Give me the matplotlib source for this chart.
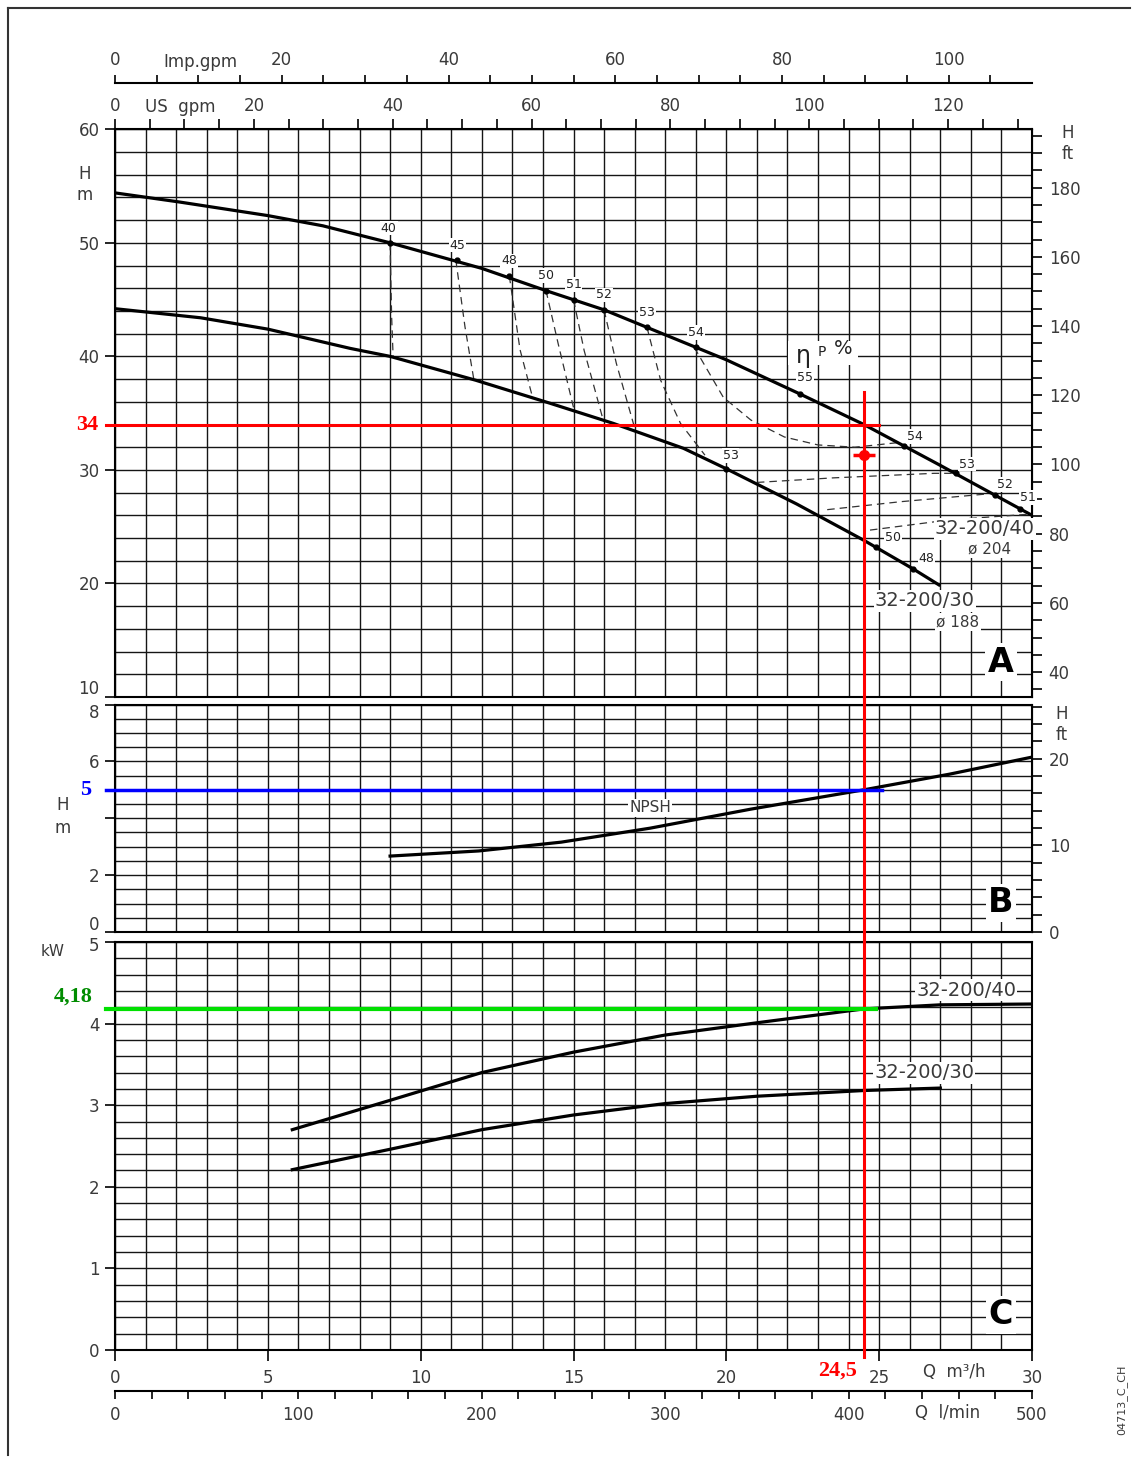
import numpy as np
import matplotlib.pyplot as plt
from matplotlib.ticker import MultipleLocator, FixedLocator, FuncFormatter

# === Curve data (Q in m3/h) ===
# Panel A : head H [m]
q_40 = [0, 2.1, 5.0, 6.8, 9.0, 12.0, 14.2, 16.0, 18.0, 20.0, 22.4, 24.5, 27.0, 30.0]
h_40 = [54.4, 53.6, 52.4, 51.5, 50.0, 47.75, 45.7, 44.1, 41.9, 39.7, 36.7, 34.0, 30.4, 26.0]
q_30 = [0, 2.8, 5.0, 7.7, 9.0, 11.8, 14.2, 16.3, 18.6, 20.0, 22.3, 24.5, 26.1, 27.0]
h_30 = [44.2, 43.4, 42.4, 40.7, 40.0, 37.9, 35.9, 34.1, 31.9, 30.1, 27.0, 23.8, 21.3, 19.8]

# efficiency iso-lines (dashed)
eff40_q, eff40_h = [9.0, 9.05, 9.1], [50.0, 43.5, 39.9]
eff45_q, eff45_h = [11.15, 11.45, 11.75], [48.5, 42.6, 37.8]
eff48_q, eff48_h = [12.9, 13.25, 13.65], [47.1, 40.6, 36.5]
eff50_q, eff50_h = [14.1, 14.5, 15.0], [45.8, 41.1, 35.5]
eff51_q, eff51_h = [15.0, 15.35, 15.95], [45.0, 40.5, 34.6]
eff52_q, eff52_h = [16.0, 16.4, 17.0], [44.1, 39.4, 33.7]
eff53_q, eff53_h = [17.4, 17.85, 18.5, 19.3], [42.6, 37.9, 34.1, 31.3]
eff54_q, eff54_h = [18.95, 19.9, 20.8, 21.9, 23.0, 24.2, 25.6], [40.8, 36.4, 34.4, 32.9, 32.2, 32.0, 32.4]
eff53r_q, eff53r_h = [21.0, 23.5, 26.8, 27.5], [28.9, 29.3, 29.7, 29.7]
eff52r_q, eff52r_h = [23.3, 25.7, 28.6], [26.5, 27.2, 27.9]
eff51r_q, eff51r_h = [24.7, 27.3, 29.9], [24.7, 25.6, 26.1]

# efficiency marks on the curves
mark40_q = [9.0, 11.2, 12.9, 14.1, 15.0, 16.0, 17.4, 19.0, 22.4, 25.8, 27.5, 28.8, 29.6]
mark40_h = [50.0, 48.5, 47.1, 45.8, 45.0, 44.1, 42.6, 40.8, 36.7, 32.1, 29.7, 27.8, 26.6]
mark40_lbl = ["40", "45", "48", "50", "51", "52", "53", "54", "55", "54", "53", "52", "51"]
mark30_q = [20.0, 24.9, 26.1]
mark30_h = [30.1, 23.2, 21.3]
mark30_lbl = ["53", "50", "48"]

# Panel B : NPSH [m]
npsh_q = [9.0, 11.9, 14.6, 17.5, 20.8, 24.5, 27.3, 30.0]
npsh_h = [2.67, 2.85, 3.16, 3.65, 4.32, 5.0, 5.55, 6.15]

# Panel C : power [kW]
p40_q = [5.8, 9.0, 12.0, 15.0, 18.0, 21.0, 24.5, 27.0, 30.0]
p40_kw = [2.70, 3.06, 3.40, 3.65, 3.86, 4.01, 4.18, 4.23, 4.24]
p30_q = [5.8, 9.0, 12.0, 15.0, 18.0, 21.0, 24.5, 27.0]
p30_kw = [2.21, 2.46, 2.70, 2.88, 3.02, 3.11, 3.18, 3.21]

# duty point
duty_q = 24.5
duty_h = 34
duty_eff_h = 31.3
duty_npsh = 5
duty_kw = 4.18

# unit conversions
M3H_USGPM = 4.40287
M3H_IMPGPM = 3.66615
M3H_LMIN = 16.6667
M_FT = 3.28084

# === Figure ===
W, H = 1133, 1461
fig = plt.figure(figsize=(W / 100, H / 100), dpi=100)
plt.rcParams['font.family'] = ['DejaVu Sans']

X0, X1 = 115, 1032


def rect(top, bottom):
    return [X0 / W, 1 - bottom / H, (X1 - X0) / W, (bottom - top) / H]


def ftext(px, py, s, **kw):
    return fig.text(px / W, 1 - py / H, s, **kw)


def label_except(skip):
    return FuncFormatter(lambda v, p: '' if any(abs(v - s) < 1e-6 for s in skip) else f'{v:.0f}')


TXT = '#3a3a3a'
GRID = '#151515'
LAB = dict(fontsize=12, color=TXT)

axA = fig.add_axes(rect(129.3, 697))
axB = fig.add_axes(rect(704.5, 932))
axC = fig.add_axes(rect(942, 1350))

for ax in (axA, axB, axC):
    ax.set_xlim(0, 30)
    ax.xaxis.set_major_locator(MultipleLocator(5))
    ax.xaxis.set_minor_locator(MultipleLocator(1))
    ax.grid(which='both', color=GRID, lw=1.0)
    ax.set_axisbelow(True)
    for s in ax.spines.values():
        s.set_linewidth(1.5)
    ax.tick_params(which='minor', length=0)
    ax.tick_params(which='major', direction='out', length=7, width=1.2,
                   labelsize=12, labelcolor=TXT, pad=4)

for ax in (axA, axB):
    ax.tick_params(axis='x', which='both', length=0, labelbottom=False)

# labels at the panel joints are drawn by hand further down
axA.set_ylim(10, 60)
axA.yaxis.set_major_locator(FixedLocator([10, 20, 30, 40, 50, 60]))
axA.yaxis.set_major_formatter(label_except([10]))
axA.yaxis.set_minor_locator(MultipleLocator(2))

axB.set_ylim(0, 8)
axB.yaxis.set_major_locator(FixedLocator([0, 2, 4, 6, 8]))
axB.yaxis.set_major_formatter(label_except([0, 4, 8]))
axB.yaxis.set_minor_locator(MultipleLocator(0.5))

axC.set_ylim(0, 5)
axC.yaxis.set_major_locator(FixedLocator([0, 1, 2, 3, 4, 5]))
axC.yaxis.set_major_formatter(label_except([5]))
axC.yaxis.set_minor_locator(MultipleLocator(0.2))
axC.tick_params(axis='x', which='major', length=8, pad=6)

ftext(99, 689, '10', **LAB, ha='right', va='center')
ftext(99, 713, '8', **LAB, ha='right', va='center')
ftext(99, 925, '0', **LAB, ha='right', va='center')
ftext(99, 946, '5', **LAB, ha='right', va='center')

# right ft axes
secA = axA.secondary_yaxis('right', functions=(lambda m: m * M_FT, lambda f: f / M_FT))
secA.yaxis.set_major_locator(FixedLocator(np.arange(35, 200, 5)))
secA.yaxis.set_major_formatter(FuncFormatter(
    lambda v, p: f'{v:.0f}' if (round(v) % 20 == 0 and 40 <= v <= 180) else ''))
secA.tick_params(length=7, width=1.2, labelsize=12, labelcolor=TXT, pad=5)

secB = axB.secondary_yaxis('right', functions=(lambda m: m * M_FT, lambda f: f / M_FT))
secB.yaxis.set_major_locator(FixedLocator(np.arange(0, 27, 2)))
secB.yaxis.set_major_formatter(FuncFormatter(
    lambda v, p: f'{v:.0f}' if round(v) % 10 == 0 else ''))
secB.tick_params(length=7, width=1.2, labelsize=12, labelcolor=TXT, pad=5)

# top US gpm axis
secT = axA.secondary_xaxis('top', functions=(lambda q: q * M3H_USGPM, lambda g: g / M3H_USGPM))
secT.xaxis.set_major_locator(FixedLocator(np.arange(0, 131, 5)))
secT.xaxis.set_major_formatter(FuncFormatter(
    lambda v, p: f'{v:.0f}' if round(v) % 20 == 0 else ''))
secT.tick_params(length=7, width=1.2, labelsize=12, labelcolor=TXT, pad=3)

# top Imp gpm axis
axI = fig.add_axes([X0 / W, 1 - 83 / H, (X1 - X0) / W, 1e-4])
axI.set_xlim(0, 30 * M3H_IMPGPM)
axI.patch.set_visible(False)
axI.set_yticks([])
for k in ('left', 'right', 'bottom'):
    axI.spines[k].set_visible(False)
axI.spines['top'].set_linewidth(1.5)
axI.xaxis.tick_top()
axI.xaxis.set_major_locator(FixedLocator(np.arange(0, 111, 5)))
axI.xaxis.set_major_formatter(FuncFormatter(
    lambda v, p: f'{v:.0f}' if round(v) % 20 == 0 else ''))
axI.tick_params(length=6, width=1.2, labelsize=12, labelcolor=TXT, pad=4)

# bottom l/min axis
axL = fig.add_axes([X0 / W, 1 - 1391 / H, (X1 - X0) / W, 1e-4])
axL.set_xlim(0, 30 * M3H_LMIN)
axL.patch.set_visible(False)
axL.set_yticks([])
for k in ('left', 'right', 'top'):
    axL.spines[k].set_visible(False)
axL.spines['bottom'].set_linewidth(1.5)
axL.xaxis.set_major_locator(FixedLocator(np.arange(0, 501, 20)))
axL.xaxis.set_major_formatter(FuncFormatter(
    lambda v, p: f'{v:.0f}' if round(v) % 100 == 0 else ''))
axL.tick_params(length=6, width=1.2, labelsize=12, labelcolor=TXT, pad=5)

# === Panel A curves ===
axA.plot(q_40, h_40, color='k', lw=2.3, zorder=4, solid_capstyle='butt')
axA.plot(q_30, h_30, color='k', lw=2.3, zorder=4, solid_capstyle='butt')

dash = dict(color='#333', lw=0.9, ls=(0, (6, 4)), zorder=3)
for qq, hh in [(eff40_q, eff40_h), (eff45_q, eff45_h), (eff48_q, eff48_h),
               (eff50_q, eff50_h), (eff51_q, eff51_h), (eff52_q, eff52_h),
               (eff53_q, eff53_h), (eff54_q, eff54_h), (eff53r_q, eff53r_h),
               (eff52r_q, eff52r_h), (eff51r_q, eff51r_h)]:
    axA.plot(qq, hh, **dash)

axA.plot(mark40_q, mark40_h, 'o', color='k', ms=3.5, zorder=5)
axA.plot(mark30_q, mark30_h, 'o', color='k', ms=3.5, zorder=5)

lbl_box = dict(fc='white', ec='none', pad=0.6)
off40 = [(-1, 6), (0, 6), (0, 6), (0, 6), (0, 6), (0, 6), (0, 6), (0, 6),
         (4, 7), (8, 2), (8, 2), (7, 3), (6, 3)]
for q, h, s, o in zip(mark40_q, mark40_h, mark40_lbl, off40):
    axA.annotate(s, (q, h), xytext=o, textcoords='offset points', ha='center',
                 va='bottom', fontsize=9, color='#222', bbox=lbl_box, zorder=6)
off30 = [(3, 5), (12, 2), (10, 3)]
for q, h, s, o in zip(mark30_q, mark30_h, mark30_lbl, off30):
    axA.annotate(s, (q, h), xytext=o, textcoords='offset points', ha='center',
                 va='bottom', fontsize=9, color='#222', bbox=lbl_box, zorder=6)

# eta_P % label on one white patch
ftext(823, 353, '\u2007' * 5, fontsize=15, ha='center', va='center',
      bbox=dict(fc='white', ec='none', pad=1.5), zorder=6)
ftext(803, 356, 'η', fontsize=17, color='#222', ha='center', va='center', zorder=7)
ftext(822, 352, 'P', fontsize=10, color='#222', ha='center', va='center', zorder=7)
ftext(843, 349, '%', fontsize=14, color='#222', ha='center', va='center', zorder=7)

wb = dict(fc='white', ec='none', pad=1.0)
ftext(985, 529, '32-200/40', fontsize=14, color=TXT, ha='center', va='center', bbox=wb, zorder=7)
ftext(990, 549, 'ø 204', fontsize=11, color=TXT, ha='center', va='center', bbox=wb, zorder=7)
ftext(925, 601, '32-200/30', fontsize=14, color=TXT, ha='center', va='center', bbox=wb, zorder=7)
ftext(958, 622, 'ø 188', fontsize=11, color=TXT, ha='center', va='center', bbox=wb, zorder=7)

# === Panel B ===
axB.plot(npsh_q, npsh_h, color='k', lw=2.3, zorder=4)
ftext(650, 808, 'NPSH', fontsize=11, color=TXT, ha='center', va='center', bbox=wb, zorder=7)

# === Panel C ===
axC.plot(p40_q, p40_kw, color='k', lw=2.3, zorder=4)
axC.plot(p30_q, p30_kw, color='k', lw=2.3, zorder=4)
ftext(966, 990, '32-200/40', fontsize=14, color=TXT, ha='center', va='center', bbox=wb, zorder=7)
ftext(924, 1073, '32-200/30', fontsize=14, color=TXT, ha='center', va='center', bbox=wb, zorder=7)

# panel letters
for py, s in [(662, 'A'), (903, 'B'), (1315, 'C')]:
    ftext(1001, py, s, fontsize=24, fontweight='bold', color='k', ha='center',
          va='center', bbox=dict(fc='white', ec='none', pad=2), zorder=7)

# === Duty point lines ===
red = '#ff0000'
axA.plot([-0.3, 25.0], [duty_h, duty_h], color=red, lw=2.2, clip_on=False, zorder=8)
axA.plot([duty_q, duty_q], [36.9, 9.34], color=red, lw=2.2, clip_on=False, zorder=8)
axB.plot([duty_q, duty_q], [8.3, -0.36], color=red, lw=2.2, clip_on=False, zorder=8)
axC.plot([duty_q, duty_q], [5.0, -0.09], color=red, lw=2.2, clip_on=False, zorder=8)
axA.plot([duty_q], [duty_eff_h], 'o', color=red, ms=7, zorder=9)
axA.plot([duty_q], [duty_eff_h], '_', color=red, ms=16, mew=2.5, zorder=9)
axB.plot([-0.3, 25.1], [duty_npsh, duty_npsh], color='#0000ff', lw=2.5, clip_on=False, zorder=8)
axC.plot([-0.3, 24.9], [duty_kw, duty_kw], color='#00e000', lw=3.0, clip_on=False, zorder=8)

serif = ['Liberation Serif', 'DejaVu Serif']
ftext(87, 425, '34', fontsize=16, fontweight='bold', family=serif, color=red, ha='center', va='center')
ftext(86, 790, '5', fontsize=16, fontweight='bold', family=serif, color='#0000ff', ha='center', va='center')
ftext(73, 997, '4,18', fontsize=16, fontweight='bold', family=serif, color='#008c00', ha='center', va='center')
ftext(838, 1371, '24,5', fontsize=16, fontweight='bold', family=serif, color=red, ha='center', va='center')

# unit labels
ftext(85, 174, 'H', **LAB, ha='center', va='center')
ftext(85, 195, 'm', **LAB, ha='center', va='center')
ftext(63, 805, 'H', **LAB, ha='center', va='center')
ftext(63, 828, 'm', **LAB, ha='center', va='center')
ftext(53, 951, 'kW', fontsize=11, color=TXT, ha='center', va='center')
ftext(1068, 133, 'H', **LAB, ha='center', va='center')
ftext(1068, 154, 'ft', **LAB, ha='center', va='center')
ftext(1062, 714, 'H', **LAB, ha='center', va='center')
ftext(1062, 735, 'ft', **LAB, ha='center', va='center')
ftext(200, 62, 'Imp.gpm', **LAB, ha='center', va='center')
ftext(180, 107, 'US  gpm', **LAB, ha='center', va='center')
ftext(954, 1372, 'Q  m³/h', **LAB, ha='center', va='center')
ftext(948, 1413, 'Q  l/min', **LAB, ha='center', va='center')
ftext(1122, 1400, '04713_C_CH', fontsize=8, color=TXT, rotation=90, ha='center', va='center')

# outer frame
fig.add_artist(plt.Line2D([8 / W, 8 / W], [1 - 8 / H, 1 - 1455 / H], color='#333', lw=1.5))
fig.add_artist(plt.Line2D([8 / W, 1130 / W], [1 - 8 / H, 1 - 8 / H], color='#333', lw=1.5))

fig.savefig('out.png', dpi=100)
